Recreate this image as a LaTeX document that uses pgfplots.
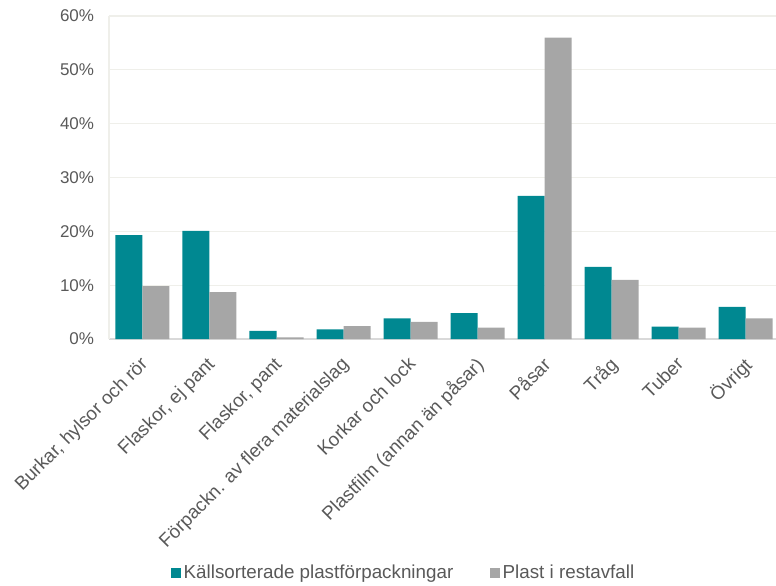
\documentclass[border=0pt]{standalone}
\usepackage{pgfplots}
\pgfplotsset{compat=1.18}
\usepackage{fontspec}
\setmainfont{Liberation Sans}
\definecolor{kallC}{HTML}{008891}
\definecolor{restC}{HTML}{A6A6A6}
\definecolor{gridC}{HTML}{EFEFEA}
\definecolor{axisC}{HTML}{D9D9D9}
\definecolor{txtC}{HTML}{595959}
\newcommand{\ytfont}{\fontsize{12.75}{15}\selectfont}
\newcommand{\lblfont}{\fontsize{14.1}{16.5}\selectfont}

% share of each packaging category (%)
\pgfplotstableread{
x kall rest
0 19.3 9.8
1 20.1 8.7
2 1.5 0.3
3 1.8 2.4
4 3.85 3.2
5 4.8 2.1
6 26.6 56.0
7 13.4 11.0
8 2.3 2.1
9 5.95 3.85
}\datatable

\begin{document}
\begin{tikzpicture}
\begin{axis}[
  scale only axis,
  width=502.5pt, height=242.25pt,
  at={(0,0)}, anchor=south west,
  ybar=0pt, bar width=20.25pt,
  xmin=-0.5, xmax=9.5,
  ymin=0, ymax=60,
  axis lines=left,
  x axis line style={-, draw=axisC, line width=0.8pt},
  y axis line style={-, draw=gridC, line width=0.8pt},
  ymajorgrids, grid style={draw=gridC, line width=0.9pt},
  major tick length=0pt,
  xtick={0,...,9},
  xticklabels={{Burkar, hylsor och rör},{Flaskor, ej pant},{Flaskor, pant},{Förpackn. av flera materialslag},{Korkar och lock},{Plastfilm (annan än påsar)},{Påsar},{Tråg},{Tuber},{Övrigt}},
  ytick={0,10,...,60},
  yticklabels={0\%,10\%,20\%,30\%,40\%,50\%,60\%},
  tick label style={text=txtC},
  yticklabel style={font=\ytfont, anchor=east, inner sep=0pt, xshift=-11pt},
  xticklabel style={font=\lblfont, rotate=45, anchor=north east, inner sep=0pt, xshift=-10.5pt, yshift=-6.8pt},
  legend style={at={(0.4403,-0.7245)}, anchor=center, draw=none, fill=none,
    legend columns=2, font=\lblfont, text=txtC,
    /tikz/every even column/.append style={column sep=25.5pt}},
  legend cell align=left,
]
\addplot[fill=kallC, draw=none,
  legend image code/.code={\fill[kallC] (0pt,-3.75pt) rectangle (7.5pt,3.75pt);}]
  table[x=x, y=kall] {\datatable};
\addlegendentry{Källsorterade plastförpackningar}
\addplot[fill=restC, draw=none,
  legend image code/.code={\fill[restC] (0pt,-3.75pt) rectangle (7.5pt,3.75pt);}]
  table[x=x, y=rest] {\datatable};
\addlegendentry{Plast i restavfall}
\end{axis}
\pgfresetboundingbox
\path[use as bounding box] (-81.75pt,-185.25pt) rectangle (500.25pt,254.25pt);
\end{tikzpicture}
\end{document}
